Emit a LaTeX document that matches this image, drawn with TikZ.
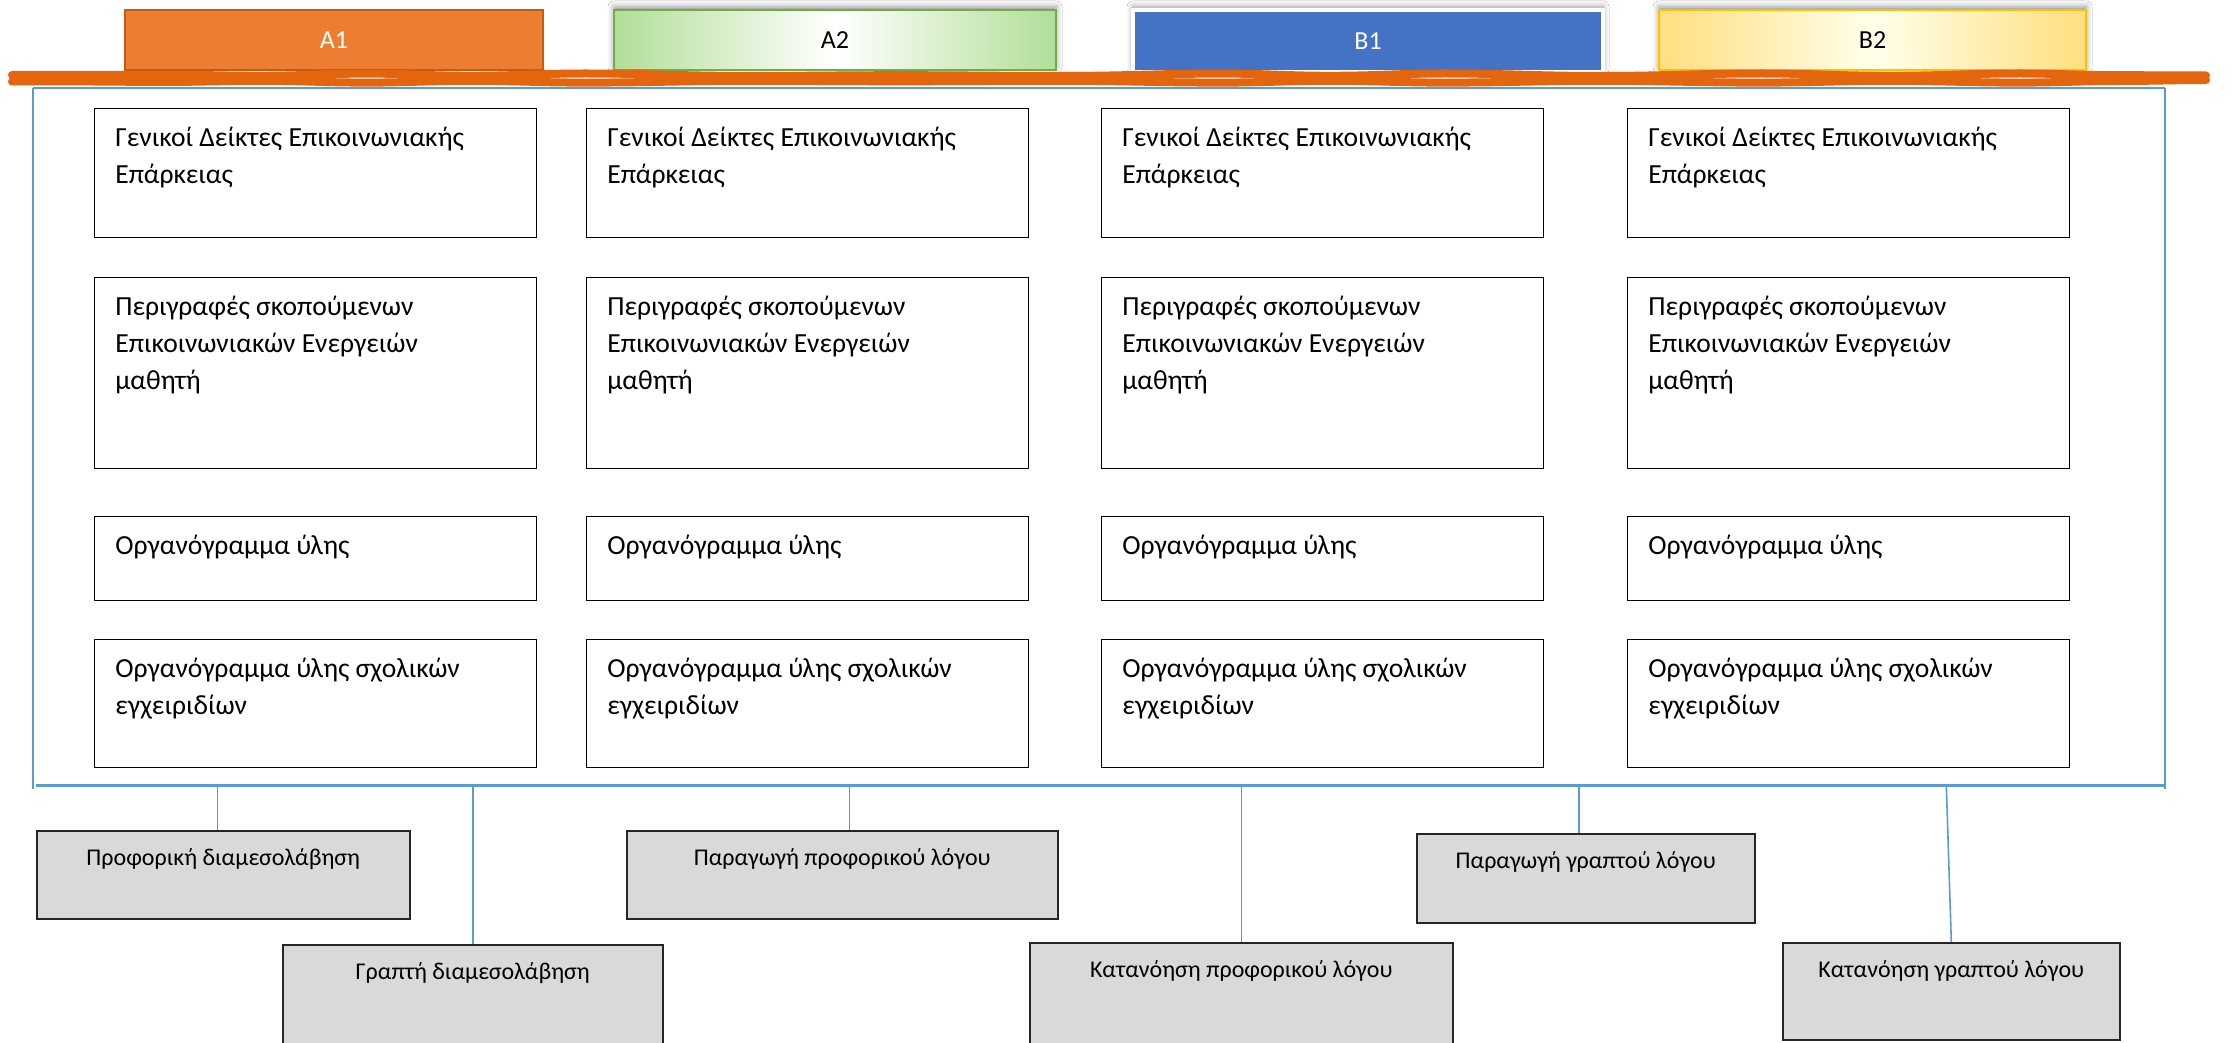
\documentclass[tikz,border=0pt]{standalone}
\usepackage{fontspec}
\setmainfont{Carlito}
\usetikzlibrary{shadows.blur}

\definecolor{levelorange}{HTML}{ED7D31}
\definecolor{levelorangeline}{HTML}{C55A11}
\definecolor{levelgreen}{HTML}{B2DE98}
\definecolor{levelgreenline}{HTML}{70AD47}
\definecolor{levelblue}{HTML}{4472C4}
\definecolor{levelyellow}{HTML}{FFDF7F}
\definecolor{levelyellowline}{HTML}{FFC000}
\definecolor{scribble}{HTML}{E3650E}
\definecolor{frameblue}{HTML}{5B9BD5}
\definecolor{skillgrey}{HTML}{D9D9D9}

\begin{document}
\begin{tikzpicture}[x = 0.5pt, y = -0.5pt,
    level/.style = {anchor = north west, inner sep = 0pt, minimum height = 30pt,
        font = \fontsize{13}{15}\selectfont},
    softshadow/.style = {blur shadow = {shadow xshift = 0pt, shadow yshift = 1.5pt,
        shadow blur radius = 3pt, shadow opacity = 45}},
    cell/.style = {draw, line width = 0.6pt, anchor = north west, inner sep = 0pt,
        minimum width = 221pt},
    celltext/.style = {anchor = north west, align = left, inner sep = 0pt,
        xshift = 10.5pt, yshift = -9.5pt, font = \fontsize{13.8}{18.5}\selectfont},
    skill/.style = {draw = black!85, line width = 0.8pt, fill = skillgrey,
        anchor = north west, inner sep = 0pt},
    skilltext/.style = {anchor = north, inner sep = 0pt, yshift = -9pt,
        font = \fontsize{12}{14}\selectfont},
    link/.style = {frameblue, line width = 0.8pt},
    stroke/.style = {scribble, line width = 4pt, line cap = round}]

    \path[fill = white, use as bounding box] (0,0) rectangle (2236,1043);

    % levels
    \node[level, fill = levelorange, draw = levelorangeline, line width = 1pt,
        minimum width = 209pt, text = white] (a1) at (124,9) {A1};
    \node[level, softshadow, left color = levelgreen, right color = levelgreen,
        middle color = white, draw = levelgreenline, line width = 1pt,
        minimum width = 221pt] (a2) at (613,9) {A2};
    \node[level, softshadow, fill = levelblue, draw = white, line width = 2pt,
        minimum width = 235pt, minimum height = 31pt, text = white] (b1) at (1131,8) {B1};
    \node[level, softshadow, left color = levelyellow, right color = levelyellow,
        middle color = yellow!8, draw = levelyellowline, line width = 1pt,
        minimum width = 213.5pt] (b2) at (1658,9) {B2};

    % scribble under the levels
    \draw[stroke] (12,75) \foreach \x/\y in {90/75, 161/74.6, 260/75.8, 367/73.6,
        470/75.8, 585/73.5, 750/76, 900/75.2, 1060/76, 1222/73.6, 1330/75.8,
        1445/73.5, 1600/76, 1761/73.5, 1890/75.8, 2019/73.5, 2120/75.2, 2206/75.5}
        { to[out = 0, in = 180] (\x,\y) };
    \draw[stroke] (12,81.5) \foreach \x/\y in {90/81.5, 161/82, 260/80.8, 367/82.6,
        470/80.8, 585/82.6, 750/80.8, 900/81.3, 1060/80.8, 1222/82.6, 1330/80.8,
        1445/82.6, 1600/80.8, 1761/82.6, 1890/80.8, 2019/82.6, 2120/81, 2206/80}
        { to[out = 0, in = 180] (\x,\y) };

    % frame
    \coordinate (ftl) at (33,88);
    \coordinate (ftr) at (2165,88);
    \coordinate (fbl) at (33,789);
    \coordinate (fbr) at (2165,789);
    \coordinate (base) at (36,785);
    \coordinate (baseend) at (2165,785);
    \draw[frameblue, line width = 0.75pt] (ftl) -- (ftr);
    \draw[frameblue, line width = 1pt] (ftl) -- (fbl);
    \draw[frameblue, line width = 1pt] (ftr) -- (fbr);
    \draw[frameblue, line width = 1.5pt] (base) -- (baseend);

    % columns
    \foreach \x/\c in {94/1, 586/2, 1101/3, 1627/4} {
        \node[cell, minimum height = 64.5pt] (g\c) at (\x,108) {};
        \node[celltext] (gt\c) at (g\c.north west)
            {Γενικοί Δείκτες Επικοινωνιακής\\Επάρκειας};
        \node[cell, minimum height = 95.5pt] (p\c) at (\x,277) {};
        \node[celltext] (pt\c) at (p\c.north west)
            {Περιγραφές σκοπούμενων\\Επικοινωνιακών Ενεργειών\\μαθητή};
        \node[cell, minimum height = 42pt] (o\c) at (\x,516) {};
        \node[celltext] (ot\c) at (o\c.north west) {Οργανόγραμμα ύλης};
        \node[cell, minimum height = 64pt] (s\c) at (\x,639) {};
        \node[celltext] (st\c) at (s\c.north west)
            {Οργανόγραμμα ύλης σχολικών\\εγχειριδίων};
    }

    % skills
    \node[skill, minimum width = 186.5pt, minimum height = 44pt] (pd) at (36,830) {};
    \node[skilltext] (pdt) at (pd.north) {Προφορική διαμεσολάβηση};
    \node[skill, minimum width = 190pt, minimum height = 60pt] (gd) at (282,944) {};
    \node[skilltext] (gdt) at (gd.north) {Γραπτή διαμεσολάβηση};
    \node[skill, minimum width = 215.5pt, minimum height = 44pt] (pp) at (626,830) {};
    \node[skilltext] (ppt) at (pp.north) {Παραγωγή προφορικού λόγου};
    \node[skill, minimum width = 211.5pt, minimum height = 60pt] (kp) at (1029,942) {};
    \node[skilltext] (kpt) at (kp.north) {Κατανόηση προφορικού λόγου};
    \node[skill, minimum width = 169pt, minimum height = 44.5pt] (pg) at (1416,833) {};
    \node[skilltext] (pgt) at (pg.north) {Παραγωγή γραπτού λόγου};
    \node[skill, minimum width = 168.5pt, minimum height = 48.5pt] (kg) at (1782,942) {};
    \node[skilltext] (kgt) at (kg.north) {Κατανόηση γραπτού λόγου};

    % links to the frame
    \draw[link] ([xshift = -3pt]pd.north) -- ([xshift = -3pt]pd.north |- base);
    \draw[link] (gd.north) -- (gd.north |- base);
    \draw[link] ([xshift = 3.5pt]pp.north) -- ([xshift = 3.5pt]pp.north |- base);
    \draw[link] (kp.north) -- (kp.north |- base);
    \draw[link] ([xshift = -3.5pt]pg.north) -- ([xshift = -3.5pt]pg.north |- base);
    \draw[link] (kg.north) -- ([xshift = -2.5pt]kg.north |- base);
\end{tikzpicture}
\end{document}
